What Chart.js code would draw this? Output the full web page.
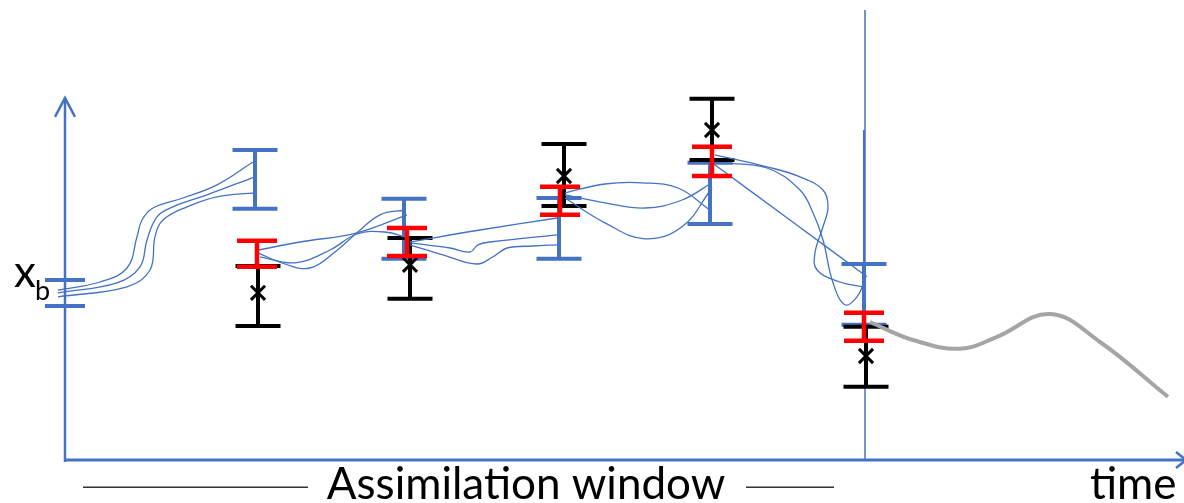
<!DOCTYPE html>
<html>
<head>
<meta charset="utf-8">
<script src="https://cdn.jsdelivr.net/npm/chart.js@4/dist/chart.umd.min.js"></script>
<style>
  html, body { margin: 0; padding: 0; background: #fff; }
  canvas { display: block; }
</style>
</head>
<body>
<canvas id="chart" width="1184" height="503"></canvas>
<script>
// background x_b
const xbBar = [3.85, 4.50];

// blue = ensemble spread at each obs time
const blueX = [1.90, 3.39, 4.94, 6.45, 7.99];
const blueLo = [6.28, 5.03, 5.03, 5.90, 3.38];
const blueHi = [7.75, 6.53, 6.55, 7.43, 4.90];

// red = analysis
const redX = [1.92, 3.42, 4.95, 6.47, 7.99];
const redLo = [4.83, 5.10, 6.13, 7.10, 2.98];
const redHi = [5.48, 5.80, 6.83, 7.83, 3.68];

// black = observations
const obsX = [1.93, 3.45, 4.99, 6.47, 8.01];
const obsLo = [3.35, 4.03, 6.35, 7.50, 1.83];
const obsHi = [4.85, 5.55, 7.90, 9.03, 3.33];
const obsVal = [4.18, 4.88, 7.10, 8.25, 2.60];

// ensemble member trajectories, one array pair per segment/member
const memT = [
  [-0.07, 0.35, 0.62, 0.72, 0.77, 0.88, 1.18, 1.52, 1.88],
  [-0.07, 0.52, 0.75, 0.82, 0.92, 1.08, 1.42, 1.90],
  [-0.07, 0.62, 0.85, 0.90, 0.98, 1.22, 1.52, 1.90],
  [1.93, 2.35, 2.92, 3.42],
  [1.93, 2.20, 2.45, 2.70, 2.92, 3.15, 3.40],
  [1.95, 2.30, 2.65, 2.92, 3.20, 3.43],
  [3.45, 4.15, 4.92],
  [3.45, 3.85, 4.05, 4.13, 4.25, 4.92],
  [3.45, 3.78, 4.12, 4.28, 4.42, 4.68, 4.92],
  [5.00, 5.40, 5.77, 6.13, 6.45],
  [5.00, 5.40, 5.80, 6.17, 6.47],
  [5.00, 5.40, 5.80, 6.17, 6.47],
  [6.47, 7.25, 8.02],
  [6.50, 7.02, 7.35, 7.58, 7.63, 7.58, 7.50, 7.52, 7.75, 7.98],
  [6.55, 7.02, 7.35, 7.48, 7.58, 7.68, 7.80, 7.92, 8.00]
];
const memV = [
  [4.25, 4.45, 4.80, 5.58, 6.00, 6.30, 6.55, 6.88, 7.45],
  [4.18, 4.43, 4.83, 5.50, 6.08, 6.33, 6.63, 7.08],
  [4.08, 4.33, 4.75, 5.58, 6.00, 6.33, 6.58, 6.68],
  [5.25, 5.45, 5.68, 6.13],
  [5.18, 4.90, 4.80, 5.20, 5.68, 6.13, 6.25],
  [5.08, 4.93, 5.25, 5.65, 5.70, 5.55],
  [5.45, 5.75, 6.05],
  [5.43, 5.30, 5.20, 5.38, 5.45, 5.63],
  [5.38, 5.13, 4.90, 5.08, 5.30, 5.35, 5.38],
  [6.68, 6.90, 6.93, 6.80, 6.25],
  [6.63, 6.43, 6.30, 6.50, 6.93],
  [6.55, 5.93, 5.53, 5.83, 6.80],
  [7.43, 6.00, 4.58],
  [7.63, 7.33, 7.08, 6.75, 6.33, 5.83, 5.18, 4.75, 4.45, 4.33],
  [7.43, 7.30, 6.75, 6.18, 5.50, 4.43, 3.88, 4.08, 4.50]
];

// forecast after the window
const fcT = [8.05, 8.48, 8.95, 9.32, 9.85, 10.35, 11.03];
const fcV = [3.45, 3.00, 2.78, 3.08, 3.65, 2.95, 1.58];

const windowEnd = 8.00;

const BLUE = "#4472C4";
const RED = "#FF0000";
const BLACK = "#000000";
const GREY = "#A5A5A5";

function pts(xs, ys) {
  return xs.map((x, i) => ({ x: x, y: ys[i] }));
}

function stems(xs, lo, hi) {
  let out = [];
  xs.forEach((x, i) => {
    out.push({ x: x, y: lo[i] }, { x: x, y: hi[i] }, { x: x, y: null });
  });
  return out;
}

function caps(xs, lo, hi) {
  let out = [];
  xs.forEach((x, i) => {
    out.push({ x: x, y: lo[i] }, { x: x, y: hi[i] });
  });
  return out;
}

function lineSet(data, color, width, order, extra) {
  return Object.assign({
    data: data,
    showLine: true,
    borderColor: color,
    borderWidth: width,
    pointRadius: 0,
    spanGaps: false,
    clip: false,
    order: order
  }, extra || {});
}

function capSet(data, color, radius, width, order) {
  return {
    data: data,
    showLine: false,
    pointStyle: "line",
    pointRadius: radius,
    pointBorderColor: color,
    pointBorderWidth: width,
    clip: false,
    order: order
  };
}

let datasets = [];

// axes drawn as data lines
datasets.push(lineSet([{ x: 0, y: -0.05 }, { x: 0, y: 9.05 }], BLUE, 2.5, 20));
datasets.push(lineSet([{ x: -0.10, y: 8.58 }, { x: 0, y: 9.05 }, { x: 0.10, y: 8.58 }], BLUE, 2.5, 20));
datasets.push(lineSet([{ x: 0, y: 0 }, { x: 11.21, y: 0 }], BLUE, 3, 20));
datasets.push(lineSet([{ x: 11.11, y: 0.2 }, { x: 11.21, y: 0 }, { x: 11.11, y: -0.2 }], BLUE, 2.5, 20));
datasets.push(lineSet([{ x: windowEnd, y: 0 }, { x: windowEnd, y: 11.25 }], BLUE, 1.5, 20));
datasets.push(lineSet([{ x: blueX[4], y: blueHi[4] }, { x: blueX[4], y: 8.25 }], BLUE, 2, 20));

// x_b bar
datasets.push(capSet(pts([0, 0], xbBar), BLUE, 20, 4, 15));

// blue bars
datasets.push(lineSet(stems(blueX, blueLo, blueHi), BLUE, 4, 15));
datasets.push(capSet(caps(blueX, blueLo, blueHi), BLUE, 22.5, 4, 15));

// black obs bars
datasets.push(lineSet(stems(obsX, obsLo, obsHi), BLACK, 4, 12));
datasets.push(capSet(caps(obsX, obsLo, obsHi), BLACK, 22.5, 4, 12));
datasets.push({
  data: pts(obsX, obsVal),
  showLine: false,
  pointStyle: "crossRot",
  pointRadius: 10,
  pointBorderColor: BLACK,
  pointBorderWidth: 3,
  clip: false,
  order: 12
});

// ensemble members
memT.forEach((t, i) => {
  datasets.push(lineSet(pts(t, memV[i]), BLUE, 1.3, 8, { tension: 0.4 }));
});

// red analysis bars
datasets.push(lineSet(stems(redX, redLo, redHi), RED, 4.5, 5));
datasets.push(capSet(caps(redX, redLo, redHi), RED, 20, 4.5, 5));

// forecast
datasets.push(lineSet(pts(fcT, fcV), GREY, 4, 4, { tension: 0.4 }));

const labelPlugin = {
  id: "labels",
  afterDraw(chart) {
    const ctx = chart.ctx;
    const x = chart.scales.x;
    const y = chart.scales.y;
    ctx.save();
    ctx.fillStyle = "#000";
    ctx.textBaseline = "alphabetic";

    // x_b
    ctx.font = "44px Lato";
    ctx.textAlign = "right";
    ctx.fillText("x", x.getPixelForValue(0) - 29, y.getPixelForValue(4.33));
    ctx.font = "27px Lato";
    ctx.textAlign = "left";
    ctx.fillText("b", x.getPixelForValue(0) - 30, y.getPixelForValue(4.0));

    // window label
    ctx.font = "44px Lato";
    ctx.textAlign = "center";
    ctx.fillText("Assimilation window", x.getPixelForValue(4.61), y.getPixelForValue(-0.98));
    ctx.textAlign = "left";
    ctx.fillText("time", x.getPixelForValue(10.25), y.getPixelForValue(-0.98));

    ctx.strokeStyle = "#333";
    ctx.lineWidth = 1.5;
    const yl = y.getPixelForValue(-0.68);
    [[0.18, 2.43], [6.81, 7.69]].forEach(seg => {
      ctx.beginPath();
      ctx.moveTo(x.getPixelForValue(seg[0]), yl);
      ctx.lineTo(x.getPixelForValue(seg[1]), yl);
      ctx.stroke();
    });
    ctx.restore();
  }
};

new Chart(document.getElementById("chart"), {
  type: "scatter",
  data: { datasets: datasets },
  options: {
    responsive: false,
    animation: false,
    events: [],
    layout: { autoPadding: false, padding: { left: 65, right: 4, top: 10, bottom: 43 } },
    plugins: { legend: { display: false }, tooltip: { enabled: false } },
    scales: {
      x: { type: "linear", min: 0, max: 11.15, display: false },
      y: { type: "linear", min: 0, max: 11.25, display: false }
    }
  },
  plugins: [labelPlugin]
});
</script>
</body>
</html>
